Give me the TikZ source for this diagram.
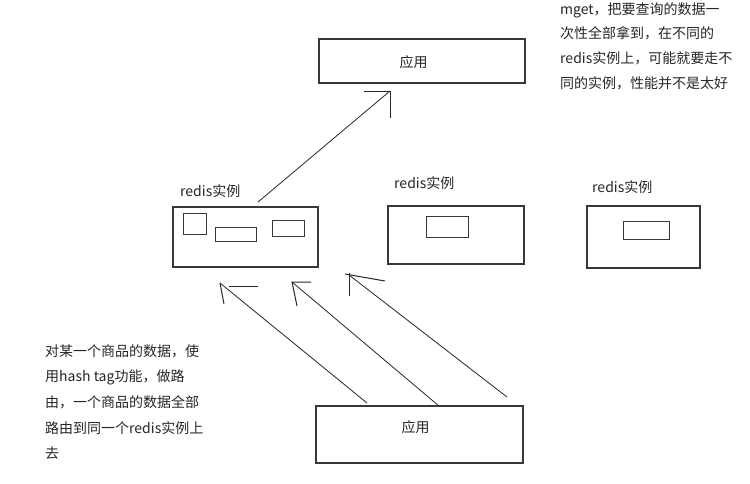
\documentclass[tikz,border=0pt]{standalone}
\usepackage{fontspec}
\newfontfamily\cjk{Noto Sans CJK SC}
\begin{document}
\begin{tikzpicture}[x=1pt,y=-1pt,
  box/.style={draw=black!78,line width=1.2pt,inner sep=0pt},
  lbl/.style={inner sep=0pt,font=\cjk\fontsize{14}{16}\selectfont,text=black!85},
  note/.style={inner sep=0pt,align=left,anchor=north west,text=black!85},
  conn/.style={draw=black!85,line width=0.8pt},
  head/.style={draw=black!85,line width=1pt}]
\useasboundingbox[fill=white] (0,0) rectangle (750,483);
% top application
\node[box,minimum width=206pt,minimum height=44pt] (app1) at (422,61) {};
\node[lbl] (app1t) at (413.5,62) {应用};
% bottom application
\node[box,minimum width=207pt,minimum height=57pt] (app2) at (419.5,434.5) {};
\node[lbl] (app2t) at (415.5,427) {应用};
% redis instance 1
\node[box,minimum width=145pt,minimum height=60pt] (r1) at (245.5,237) {};
\node[lbl,anchor=west] (r1l) at (180,191) {redis实例};
\node[box,line width=1pt,minimum width=23pt,minimum height=21pt] (r1a) at (194.5,223.5) {};
\node[box,line width=1pt,minimum width=41pt,minimum height=14pt] (r1b) at (235.5,234) {};
\node[box,line width=1pt,minimum width=32pt,minimum height=16pt] (r1c) at (288,228) {};
% redis instance 2
\node[box,minimum width=136pt,minimum height=58pt] (r2) at (456,235) {};
\node[lbl,anchor=west] (r2l) at (394,183) {redis实例};
\node[box,line width=1pt,minimum width=42pt,minimum height=21pt] (r2a) at (447,226.5) {};
% redis instance 3
\node[box,minimum width=113pt,minimum height=62pt] (r3) at (643.5,237) {};
\node[lbl,anchor=west] (r3l) at (592,187) {redis实例};
\node[box,line width=1pt,minimum width=46pt,minimum height=18pt] (r3a) at (646,230) {};
% notes
\node[note,font=\cjk\fontsize{14}{24.7}\selectfont] (n1) at (560,2)
  {mget，把要查询的数据一\\次性全部拿到，在不同的\\redis实例上，可能就要走不\\同的实例，性能并不是太好};
\node[note,font=\cjk\fontsize{14}{25.7}\selectfont] (n2) at (45,344)
  {对某一个商品的数据，使\\用hash tag功能，做路\\由，一个商品的数据全部\\路由到同一个redis实例上\\去};
% top arrow: redis1 -> app1
\coordinate (s0) at (258,202);
\coordinate (t0) at (390,91);
\draw[conn] (s0) -- (t0);
\draw[head] (364,91) -- (t0) -- (390,118);
% bottom arrows: app2 -> redis1
\coordinate (s1) at (367,403);
\coordinate (t1) at (220,283);
\draw[conn] (s1) -- (t1);
\draw[head] (229,286) -- (258,286);
\draw[head] (t1) -- (224,304);
\coordinate (s2) at (439,406);
\coordinate (t2) at (292,282);
\draw[conn] (s2) -- (t2);
\draw[head] (311,282) -- (t2) -- (297,306);
\coordinate (s3) at (507,397);
\coordinate (t3) at (349,275);
\draw[conn] (s3) -- (t3);
\draw[head] (345,274) -- (385,281);
\draw[head] (349,273) -- (349,296);
\end{tikzpicture}
\end{document}
